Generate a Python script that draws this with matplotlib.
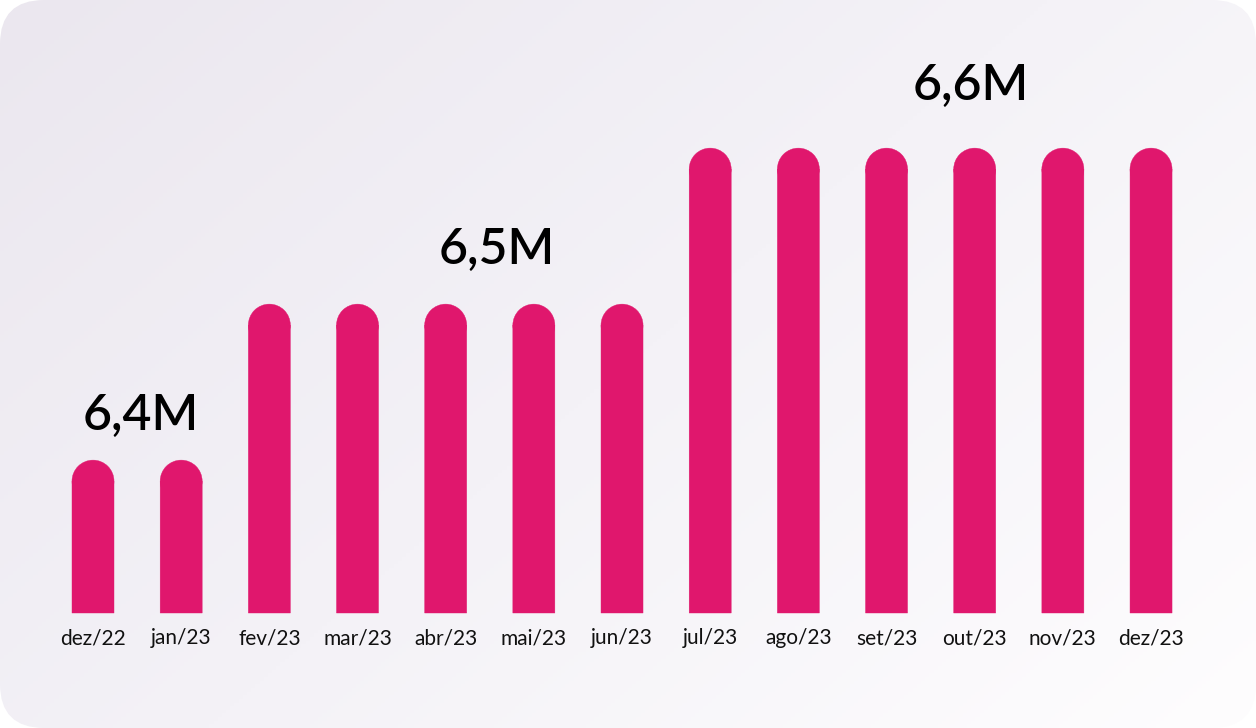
import numpy as np
import matplotlib.pyplot as plt
from matplotlib.patches import FancyBboxPatch, Rectangle, Ellipse
from matplotlib.colors import LinearSegmentedColormap

# Dados
meses = ['dez/22', 'jan/23', 'fev/23', 'mar/23', 'abr/23', 'mai/23', 'jun/23',
         'jul/23', 'ago/23', 'set/23', 'out/23', 'nov/23', 'dez/23']
valores = [6.4, 6.4, 6.5, 6.5, 6.5, 6.5, 6.5, 6.6, 6.6, 6.6, 6.6, 6.6, 6.6]
rotulos = ['6,4M', '6,5M', '6,6M']
rotulo_x = [0.54, 4.58, 9.96]
rotulo_y = [6.4, 6.5, 6.6]

rosa = '#E0176D'
W, H = 1256, 728

fig = plt.figure(figsize=(W / 100, H / 100), dpi=100)
fig.patch.set_facecolor('white')
ax = fig.add_axes([0, 0, 1, 1])

# escala: pixel -> dados
passo = 88.17
base = 6.302
ppu = 1560.0  # pixels por unidade de valor
x0_px, base_px = 93, 613
ax.set_xlim(-x0_px / passo, (W - x0_px) / passo)
ax.set_ylim(base - (H - base_px) / ppu, base + base_px / ppu)
ax.axis('off')

# fundo com gradiente e cantos arredondados
xl, yl = ax.get_xlim(), ax.get_ylim()
bg = FancyBboxPatch((xl[0], yl[0]), xl[1] - xl[0], yl[1] - yl[0],
                    boxstyle='round,pad=0,rounding_size=0.5',
                    mutation_aspect=passo / ppu,
                    facecolor='none', edgecolor='none')
ax.add_patch(bg)
gx, gy = np.meshgrid(np.linspace(0, 1, 300), np.linspace(0, 1, 200))
grad = (gx * 0.6 + gy * 0.4)
cmap = LinearSegmentedColormap.from_list('bg', ['#EBE7EF', '#F4F2F7', '#FEFDFE'])
im = ax.imshow(grad, extent=[xl[0], xl[1], yl[0], yl[1]], origin='upper',
               cmap=cmap, aspect='auto', zorder=0)
im.set_clip_path(bg)

# barras com topo arredondado
largura = 42 / passo
raio_y = (42 / 2) / ppu
for i, v in enumerate(valores):
    ax.add_patch(Rectangle((i - largura / 2, base), largura, v - raio_y - base,
                           facecolor=rosa, edgecolor=rosa, linewidth=0.3,
                           snap=False, zorder=2))
    ax.add_patch(Ellipse((i, v - raio_y), largura, 2 * raio_y,
                         facecolor=rosa, edgecolor=rosa, linewidth=0.3,
                         zorder=2))
    ax.text(i, base - 25 / ppu, meses[i], ha='center', va='center',
            fontsize=15, family='Lato', color='#111111')

gaps = [30, 40, 48]
for t, x, y, g in zip(rotulos, rotulo_x, rotulo_y, gaps):
    ax.text(x, y + g / ppu, t, ha='center', va='baseline', fontsize=36,
            family='Lato', fontweight='semibold', color='black')

fig.savefig('out.png', dpi=100)
